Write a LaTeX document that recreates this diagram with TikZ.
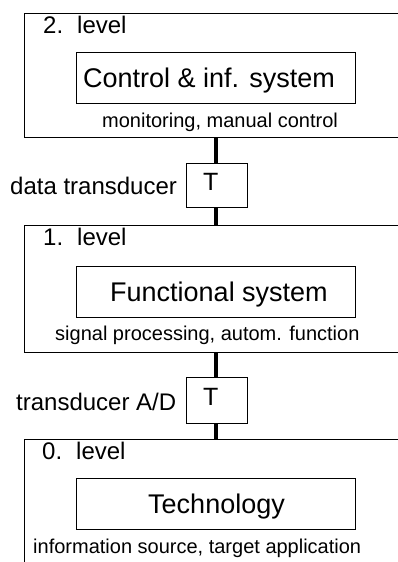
\documentclass[tikz,border=0pt]{standalone}
\usepackage{fontspec}
\setmainfont{Liberation Sans}
\begin{document}
\begin{tikzpicture}[x=1pt,y=-1pt,
  box/.style={draw,line width=1.3pt,rectangle,inner sep=0pt,anchor=north west},
  conn/.style={line width=4pt},
  big/.style={font=\fontsize{27}{30}\selectfont,inner sep=0pt,anchor=base west},
  mid/.style={font=\fontsize{24}{28}\selectfont,inner sep=0pt,anchor=base west},
  tee/.style={font=\fontsize{25}{28}\selectfont,inner sep=0pt,anchor=base west},
  small/.style={font=\fontsize{20}{24}\selectfont,inner sep=0pt,anchor=base west}]
\useasboundingbox (0,0) rectangle (398,562);
\clip (0,0) rectangle (398,562);
\fill[white] (0,0) rectangle (398,562);

% level 2
\node[box,minimum width=400pt,minimum height=124pt] (lev2) at (24,13) {};
\node[mid] (l2) at (43,33) {2.\hspace{14pt}level};
\node[box,minimum width=279pt,minimum height=51pt] (ctrlbox) at (76,52) {};
\node[big] (ctrl) at (83,87) {Control \& inf. system};
\node[small] (mon) at (102,127) {monitoring, manual control};

% transducer 1
\node[box,minimum width=61pt,minimum height=44pt] (t1) at (186,163) {};
\node[tee] (t1t) at (203,190) {T};
\node[mid] (dt) at (10,194) {data transducer};

% level 1
\node[box,minimum width=400pt,minimum height=127pt] (lev1) at (24,225) {};
\node[mid] (l1) at (43,245) {1.\hspace{14pt}level};
\node[box,minimum width=279pt,minimum height=51pt] (funcbox) at (76,266) {};
\node[big] (func) at (110,301) {Functional system};
\node[small] (sig) at (55,340) {signal processing, autom. function};

% transducer 2
\node[box,minimum width=61pt,minimum height=46pt] (t2) at (186,377) {};
\node[tee] (t2t) at (203,405) {T};
\node[mid] (ad) at (16,410) {transducer A/D};

% level 0
\node[box,minimum width=400pt,minimum height=200pt] (lev0) at (24,439) {};
\node[mid] (l0) at (42,459) {0.\hspace{14pt}level};
\node[box,minimum width=279pt,minimum height=51pt] (techbox) at (76,478) {};
\node[big] (tech) at (148,513) {Technology};
\node[small] (info) at (33,553) {information source, target application};

% connectors
\draw[conn] ([xshift=-1.5pt]t1.north) -- ([xshift=-1.5pt]t1.north |- lev2.south);
\draw[conn] ([xshift=-1.5pt]t1.south) -- ([xshift=-1.5pt]t1.south |- lev1.north);
\draw[conn] ([xshift=-1.5pt]t2.north) -- ([xshift=-1.5pt]t2.north |- lev1.south);
\draw[conn] ([xshift=-1.5pt]t2.south) -- ([xshift=-1.5pt]t2.south |- lev0.north);
\end{tikzpicture}
\end{document}
